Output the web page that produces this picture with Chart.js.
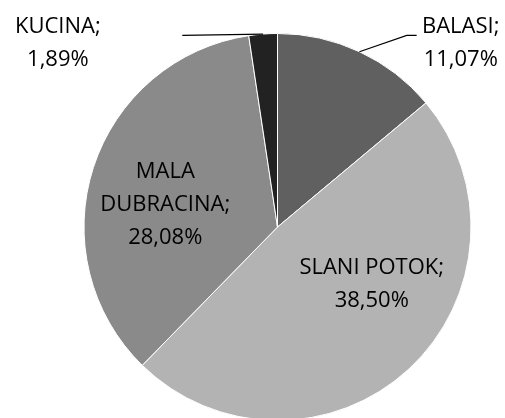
<!DOCTYPE html>
<html>
<head>
<meta charset="utf-8">
<script src="https://cdn.jsdelivr.net/npm/chart.js@4/dist/chart.umd.min.js"></script>
<style>
html,body{margin:0;padding:0;background:#fff;overflow:hidden;width:505px;height:418px;}
canvas{display:block;}
</style>
</head>
<body>
<canvas id="c" width="505" height="424"></canvas>
<script>
const categories = ["BALASI", "SLANI POTOK", "MALA DUBRACINA", "KUCINA"];
const values = [11.07, 38.50, 28.08, 1.89];
const sliceColors = ["#606060", "#b3b3b3", "#8a8a8a", "#222222"];

// label placement in units of pie radius, relative to pie centre
const labelLayout = [
  { lines: ["BALASI;"], at: [0.947, -0.95], leader: [[0.668, -0.99], [0.719, -0.99]] },
  { lines: ["SLANI POTOK;"], at: [0.487, 0.294] },
  { lines: ["MALA", "DUBRACINA;"], at: [-0.58, -0.113] },
  { lines: ["KUCINA;"], at: [-1.135, -0.95], leader: [[-0.492, -0.99]] }
];

const fmt = v => v.toFixed(2).replace('.', ',') + '%';

const labelPlugin = {
  id: 'pieLabels',
  afterDatasetsDraw(chart) {
    const ctx = chart.ctx;
    const meta = chart.getDatasetMeta(0);
    const lineH = 33;
    ctx.save();
    ctx.font = '22px "Open Sans"';
    ctx.fillStyle = '#000';
    ctx.textAlign = 'center';
    ctx.textBaseline = 'middle';
    meta.data.forEach((arc, i) => {
      const cx = arc.x, cy = arc.y, r = arc.outerRadius;
      const L = labelLayout[i];
      const lines = L.lines.concat([fmt(values[i])]);
      if (L.leader) {
        const mid = (arc.startAngle + arc.endAngle) / 2;
        ctx.beginPath();
        ctx.strokeStyle = '#000';
        ctx.lineWidth = 1.2;
        ctx.moveTo(cx + r * Math.cos(mid), cy + r * Math.sin(mid));
        L.leader.forEach(p => ctx.lineTo(cx + p[0] * r, cy + p[1] * r));
        ctx.stroke();
      }
      const lx = cx + L.at[0] * r;
      const ly = cy + L.at[1] * r;
      const y0 = ly - (lines.length - 1) * lineH / 2;
      lines.forEach((t, k) => ctx.fillText(t, lx, y0 + k * lineH));
    });
    ctx.restore();
  }
};

new Chart(document.getElementById('c'), {
  type: 'pie',
  data: {
    labels: categories,
    datasets: [{
      data: values,
      backgroundColor: sliceColors,
      borderColor: '#ffffff',
      borderWidth: 1
    }]
  },
  options: {
    responsive: false,
    animation: false,
    layout: { padding: { top: 33, bottom: 3, left: 83.5, right: 33.5 } },
    plugins: { legend: { display: false }, tooltip: { enabled: false } }
  },
  plugins: [labelPlugin]
});
</script>
</body>
</html>
